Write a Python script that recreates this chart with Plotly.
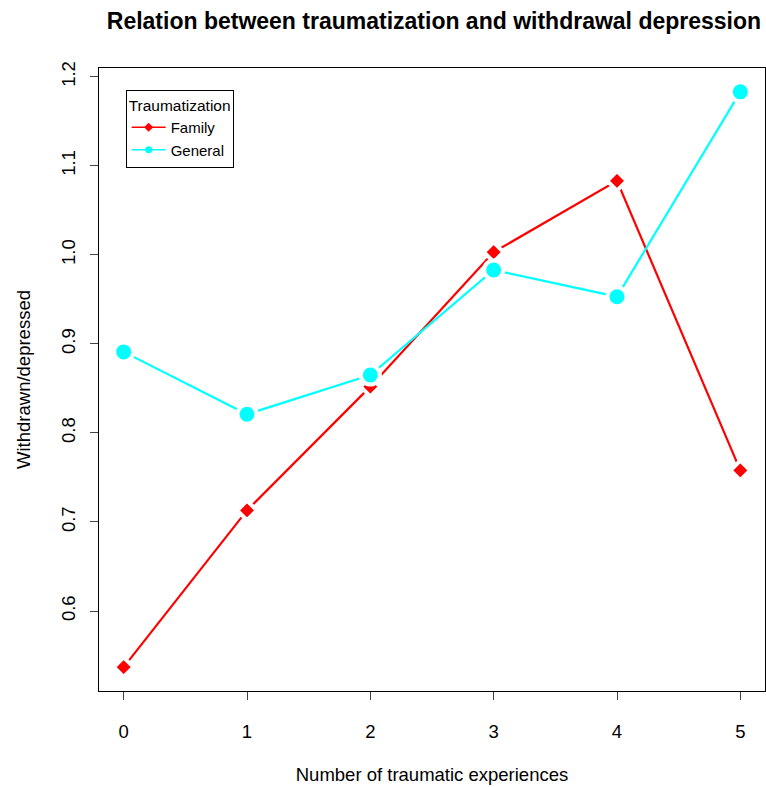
import plotly.graph_objects as go

# Mean withdrawn/depressed score by number of traumatic experiences
experiences = [0, 1, 2, 3, 4, 5]
family = [0.537, 0.713, 0.852, 1.003, 1.083, 0.758]
general = [0.891, 0.821, 0.865, 0.983, 0.953, 1.183]
y_ticks = [0.6, 0.7, 0.8, 0.9, 1.0, 1.1, 1.2]
y_tick_text = ["0.6", "0.7", "0.8", "0.9", "1.0", "1.1", "1.2"]

RED = "#FF0000"
CYAN = "#00FFFF"
FONT = "Liberation Sans, Arial, sans-serif"

fig = go.Figure()

series = [
    ("Family", family, RED, "diamond", 15),
    ("General", general, CYAN, "circle", 19),
]

for name, values, color, symbol, size in series:
    # plotted series; the white marker rim leaves a gap in the line at each point
    fig.add_trace(go.Scatter(
        x=experiences, y=values, mode="lines+markers", name=name,
        showlegend=False,
        line=dict(color=color, width=2.2),
        marker=dict(symbol=symbol, size=size, color=color,
                    line=dict(color="white", width=4)),
    ))

for name, values, color, symbol, size in series:
    # legend entries: continuous line through a small marker
    fig.add_trace(go.Scatter(
        x=[None], y=[None], mode="lines+markers", name=name,
        line=dict(color=color, width=1.5),
        marker=dict(symbol=symbol, size=7, color=color),
    ))

axis_common = dict(
    showgrid=False, zeroline=False,
    showline=True, linecolor="black", linewidth=1, mirror=True,
    ticks="outside", ticklen=8, tickwidth=1, tickcolor="#444",
    tickfont=dict(family=FONT, size=18.5, color="black"),
)

fig.update_layout(
    width=766, height=787,
    margin=dict(l=99, r=1, t=68, b=96),
    paper_bgcolor="white", plot_bgcolor="white",
    font=dict(family=FONT, color="black"),
    title=dict(
        text="<b>Relation between traumatization and withdrawal depression</b>",
        x=0.5665, xanchor="center", y=0.974, yanchor="middle",
        font=dict(family=FONT, size=23, color="black"),
    ),
    xaxis=dict(
        range=[-0.2, 5.2], tickvals=experiences,
        ticklabelstandoff=16,
        title=dict(text="Number of traumatic experiences",
                   font=dict(family=FONT, size=18.5, color="black"), standoff=26),
        **axis_common,
    ),
    yaxis=dict(
        range=[0.5102, 1.2098], tickvals=y_ticks, ticktext=y_tick_text,
        tickangle=-90, ticklabelstandoff=8,
        title=dict(text="Withdrawn/depressed",
                   font=dict(family=FONT, size=18.5, color="black"), standoff=22),
        **axis_common,
    ),
    legend=dict(
        title=dict(text="Traumatization", font=dict(family=FONT, size=15.5)),
        x=0.04, y=0.965, xanchor="left", yanchor="top",
        bordercolor="black", borderwidth=1, bgcolor="white",
        font=dict(family=FONT, size=15, color="black"),
        itemwidth=34, tracegroupgap=0,
    ),
)

fig.write_html("out.html")
